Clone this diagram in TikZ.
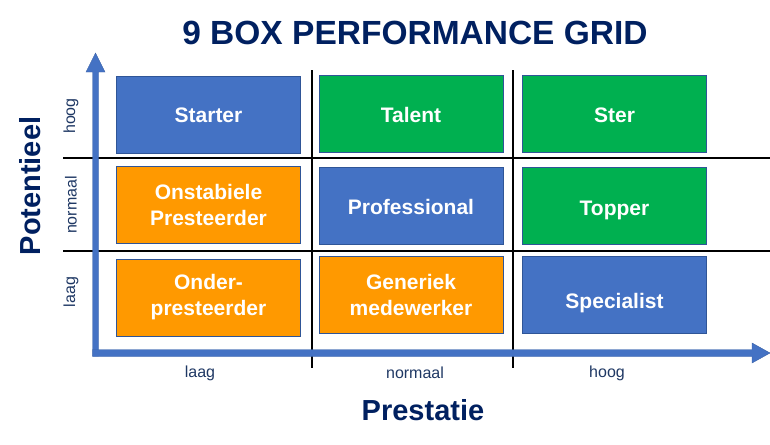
\documentclass[tikz,border=0pt]{standalone}
\usepackage{fontspec}
\setmainfont{Liberation Sans}
\definecolor{cblue}{HTML}{4472C4}
\definecolor{cgreen}{HTML}{00B050}
\definecolor{corange}{HTML}{FF9900}
\definecolor{cedge}{HTML}{2F5597}
\definecolor{navy}{HTML}{002060}
\definecolor{lnavy}{HTML}{1F3864}
\begin{document}
\begin{tikzpicture}[x=1pt,y=-1pt,
  cell/.style={draw=cedge, line width=0.8pt, minimum width=184pt, minimum height=77pt,
     text=white, font=\fontsize{21}{26}\selectfont\bfseries, align=center, inner sep=0pt},
  oneline/.style={text height=#1, text depth=0pt},
  gridline/.style={black, line width=1.5pt},
  lab/.style={text=lnavy, font=\fontsize{16}{18}\selectfont, inner sep=0pt},
  axis/.style={fill=cblue, draw=cblue!85!black, line width=0.4pt}]
\useasboundingbox (0,0) rectangle (770,444);
% title
\node[text=navy, font=\fontsize{33.5}{36}\selectfont\bfseries] (title) at (415,33) {9 BOX PERFORMANCE GRID};
% grid lines
\draw[gridline] (63,158) -- (770,158);
\draw[gridline] (63,251) -- (770,251);
\draw[gridline] (312,70) -- (312,368);
\draw[gridline] (513,70) -- (513,368);
% boxes
\node[cell, fill=cblue, oneline=16pt] (starter) at (208.5,114.5) {Starter};
\node[cell, fill=cgreen, oneline=17pt] (talent) at (411,114) {Talent};
\node[cell, fill=cgreen, oneline=17pt] (ster) at (614.5,114) {Ster};
\node[cell, fill=corange] (onst) at (208.5,205) {Onstabiele\\Presteerder};
\node[cell, fill=cblue, oneline=18pt] (prof) at (411,205.5) {Professional};
\node[cell, fill=cgreen, oneline=20pt] (topper) at (614.5,205.5) {Topper};
\node[cell, fill=corange] (onder) at (208.5,297.5) {Onder-\\presteerder};
\node[cell, fill=corange] (gen) at (411,295) {Generiek\\medewerker};
\node[cell, fill=cblue, oneline=26pt] (spec) at (614.5,295) {Specialist};
% axes
\draw[axis] (92.5,356) -- (92.5,72) -- (86,72) -- (95.5,53) -- (105,72) -- (98.5,72) -- (98.5,356) -- cycle;
\draw[axis] (92.5,349.5) -- (752,349.5) -- (752,343) -- (770,353) -- (752,363) -- (752,356.5) -- (92.5,356.5) -- cycle;
% axis labels
\node[lab] (xl1) at (200,373) {laag};
\node[lab] (xl2) at (415,373) {normaal};
\node[lab] (xl3) at (607,373) {hoog};
\node[lab, rotate=90] (yl1) at (71,116) {hoog};
\node[lab, rotate=90] (yl2) at (71,205) {normaal};
\node[lab, rotate=90] (yl3) at (71,292) {laag};
\node[text=navy, font=\fontsize{29}{32}\selectfont\bfseries, rotate=90] (pot) at (30,186) {Potentieel};
\node[text=navy, font=\fontsize{29}{32}\selectfont\bfseries] (pres) at (423,410) {Prestatie};
\end{tikzpicture}
\end{document}
